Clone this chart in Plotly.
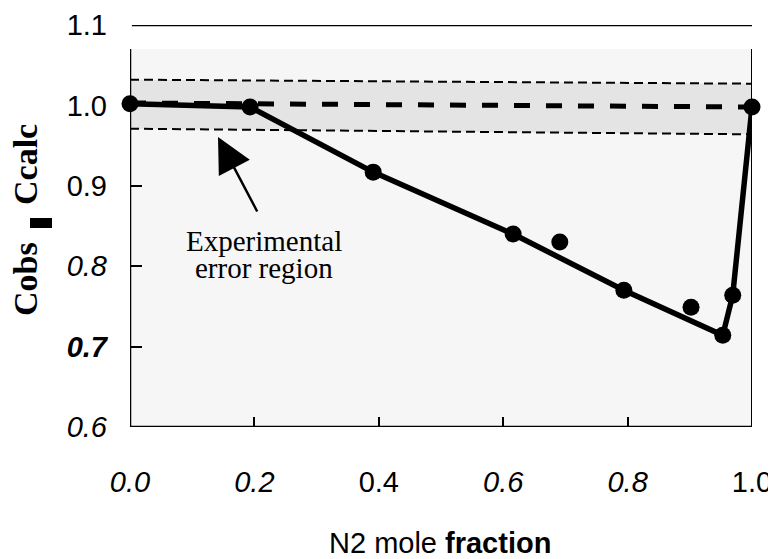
import plotly.graph_objects as go

# Data
line_x = [0.0, 0.193, 0.391, 0.616, 0.794, 0.953, 0.969, 1.0]
line_y = [1.002, 0.998, 0.917, 0.840, 0.770, 0.714, 0.764, 0.998]
off_x = [0.691, 0.902]
off_y = [0.830, 0.749]

band_x = [0.0, 1.0]
band_upper = [1.032, 1.027]
band_mid = [1.003, 0.998]
band_lower = [0.971, 0.964]

y_tickvals = [0.6, 0.7, 0.8, 0.9, 1.0, 1.1]
y_ticktext = ["<i>0.6</i>", "<b><i>0.7</i></b>", "<i>0.8</i>", "0.9", "1.0", "1.1"]
x_tickvals = [0.0, 0.2, 0.4, 0.6, 0.8, 1.0]
x_ticktext = ["<i>0.0</i>", "<i>0.2</i>", "0.4", "<i>0.6</i>", "<i>0.8</i>", "1.0"]

SANS = "Liberation Sans Narrow, Liberation Sans, Arial, sans-serif"
SERIF = "Liberation Serif, Times New Roman, serif"

# page pixel -> paper coordinate helpers (plot area: x 130..752, y 25..427 on the page)
def px(x):
    return (x - 130) / 622

def py(y):
    return (427 - y) / 402

fig = go.Figure()

# shaded error band
fig.add_trace(go.Scatter(x=band_x, y=band_lower, mode="lines",
                         line=dict(width=0, color="rgba(0,0,0,0)"),
                         showlegend=False, hoverinfo="skip"))
fig.add_trace(go.Scatter(x=band_x, y=band_upper, mode="lines", fill="tonexty",
                         fillcolor="#e4e4e4",
                         line=dict(width=0, color="rgba(0,0,0,0)"),
                         showlegend=False, hoverinfo="skip"))
# dashed boundaries
for yy in (band_upper, band_lower):
    fig.add_trace(go.Scatter(x=band_x, y=yy, mode="lines",
                             line=dict(color="black", width=2, dash="9px,5px"),
                             showlegend=False, hoverinfo="skip"))
fig.add_trace(go.Scatter(x=band_x, y=band_mid, mode="lines",
                         line=dict(color="black", width=5, dash="16px,16px"),
                         showlegend=False, hoverinfo="skip"))

# main line with points
fig.add_trace(go.Scatter(x=line_x, y=line_y, mode="lines+markers",
                         line=dict(color="black", width=5.5),
                         marker=dict(color="black", size=17),
                         cliponaxis=False, showlegend=False))
fig.add_trace(go.Scatter(x=off_x, y=off_y, mode="markers",
                         marker=dict(color="black", size=17),
                         cliponaxis=False, showlegend=False))

shapes = [
    # light grey frame background
    dict(type="rect", xref="x", yref="y", x0=0, x1=1.0, y0=0.6, y1=1.07,
         fillcolor="#f6f6f6", line=dict(width=0), layer="below"),
    # axes frame
    dict(type="line", xref="x", yref="y", x0=0, x1=0, y0=0.6, y1=1.07,
         line=dict(color="black", width=2.5)),
    dict(type="line", xref="x", yref="y", x0=1.0, x1=1.0, y0=0.6, y1=1.07,
         line=dict(color="black", width=2)),
    dict(type="line", xref="x", yref="y", x0=0, x1=1.0, y0=0.6, y1=0.6,
         line=dict(color="black", width=2.5)),
    dict(type="line", xref="x", yref="y", x0=0.003, x1=1.003, y0=1.1, y1=1.1,
         line=dict(color="black", width=2.5)),
    # black bar in the y title
    dict(type="rect", xref="paper", yref="paper",
         x0=px(30), x1=px(52), y0=py(228), y1=py(218),
         fillcolor="black", line=dict(width=0)),
]

annotations = [
    dict(xref="x", yref="y", x=0.1415, y=0.9607, ax=40, ay=76,
         axref="pixel", ayref="pixel", showarrow=True, arrowhead=2,
         arrowsize=2.8, arrowwidth=2.5, arrowcolor="black", text=""),
    dict(xref="paper", yref="paper", x=px(264), y=py(241),
         text="Experimental", showarrow=False, xanchor="center", yanchor="middle",
         font=dict(family=SERIF, size=29, color="black")),
    dict(xref="paper", yref="paper", x=px(264), y=py(268),
         text="error region", showarrow=False, xanchor="center", yanchor="middle",
         font=dict(family=SERIF, size=29, color="black")),
    dict(xref="paper", yref="paper", x=px(25), y=py(279),
         text="<b>Cobs</b>", showarrow=False, textangle=-90,
         xanchor="center", yanchor="middle",
         font=dict(family=SERIF, size=34, color="black")),
    dict(xref="paper", yref="paper", x=px(25), y=py(165),
         text="<b>Ccalc</b>", showarrow=False, textangle=-90,
         xanchor="center", yanchor="middle",
         font=dict(family=SERIF, size=34, color="black")),
    dict(xref="paper", yref="paper", x=px(440), y=py(543),
         text="N2 mole <b>fraction</b>", showarrow=False,
         xanchor="center", yanchor="middle",
         font=dict(family=SANS, size=29, color="black")),
]

# the page body has an 8px margin, so the figure is offset by 8px
fig.update_layout(
    width=768, height=551,
    margin=dict(l=122, r=24, t=17, b=132),
    paper_bgcolor="white", plot_bgcolor="white",
    shapes=shapes, annotations=annotations,
    showlegend=False,
    xaxis=dict(range=[0, 1.0], tickvals=x_tickvals, ticktext=x_ticktext,
               ticks="inside", ticklen=10, tickwidth=2, tickcolor="black",
               showgrid=False, zeroline=False, showline=False,
               automargin=False, ticklabelstandoff=35,
               tickfont=dict(family=SANS, size=29, color="black")),
    yaxis=dict(range=[0.6, 1.1], tickvals=y_tickvals, ticktext=y_ticktext,
               ticks="inside", ticklen=12, tickwidth=2, tickcolor="black",
               showgrid=False, zeroline=False, showline=False,
               automargin=False, ticklabelstandoff=22,
               tickfont=dict(family=SANS, size=29, color="black")),
)

fig.write_html("out.html")
